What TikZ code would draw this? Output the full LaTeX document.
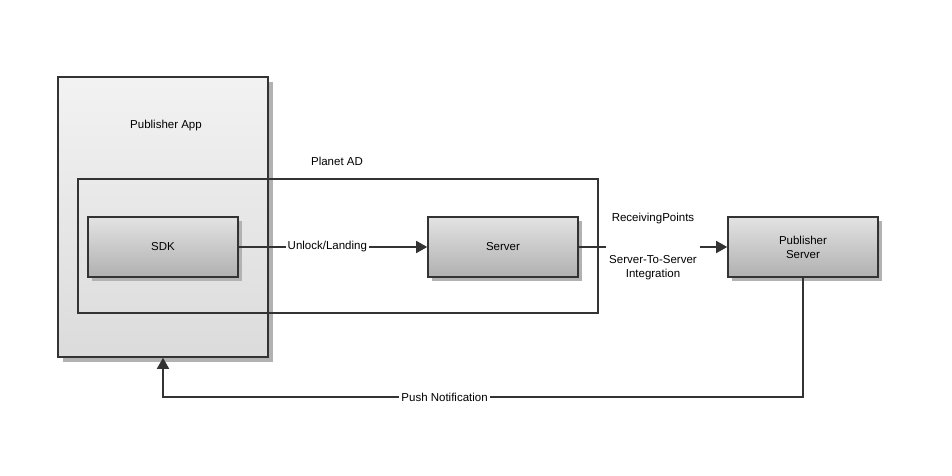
\documentclass[tikz,border=0pt]{standalone}
\usepackage{fontspec}
\setmainfont{Liberation Sans}
\usetikzlibrary{shadows,arrows.meta}
\definecolor{ln}{HTML}{333333}
\begin{document}
\begin{tikzpicture}[x=1pt,y=-1pt,
  font=\fontsize{11.5}{14}\selectfont,
  conn/.style={draw=ln,line width=1.6pt},
  arr/.style={conn,-{Triangle[length=11pt,width=12pt]}},
  outerbox/.style={draw=ln,line width=1.6pt,top color=black!5,bottom color=black!14,
    drop shadow={shadow xshift=5pt,shadow yshift=-5pt,fill=black!30,opacity=1},
    minimum width=210pt,minimum height=280pt,inner sep=0pt},
  procbox/.style={draw=ln,line width=1.6pt,top color=black!11,bottom color=black!31,
    drop shadow={shadow xshift=4pt,shadow yshift=-4pt,fill=black!30,opacity=1},
    minimum width=150pt,minimum height=60pt,inner sep=0pt,align=center},
  groupbox/.style={draw=ln,line width=1.6pt,minimum width=520pt,minimum height=134pt,inner sep=0pt},
  lab/.style={fill=white,inner sep=2pt,align=center}]
\useasboundingbox[fill=white] (0,0) rectangle (952,476);
\node[outerbox] (app) at (163,217) {};
\node (apptxt) at (166,126) {Publisher App};
\node[groupbox] (planet) at (338,246) {};
\node (planettxt) at (337,161) {Planet AD};
\node[procbox] (sdk) at (163,247) {SDK};
\node[procbox] (server) at (503,247) {Server};
\node[procbox] (pubsrv) at (803,247) {Publisher\\Server};
\draw[arr] (sdk) -- node[lab,pos=0.47]{Unlock/Landing} (server);
\draw[arr] (server) -- node[lab,inner sep=3pt]{ReceivingPoints\\ \\ \\Server-To-Server\\Integration} (pubsrv);
\coordinate (c1) at (803,397);
\coordinate (c2) at (163,397);
\draw[arr] (pubsrv.south) -- (c1) -- node[lab,pos=0.56]{Push Notification} (c2) -- (app.south);
\end{tikzpicture}
\end{document}
